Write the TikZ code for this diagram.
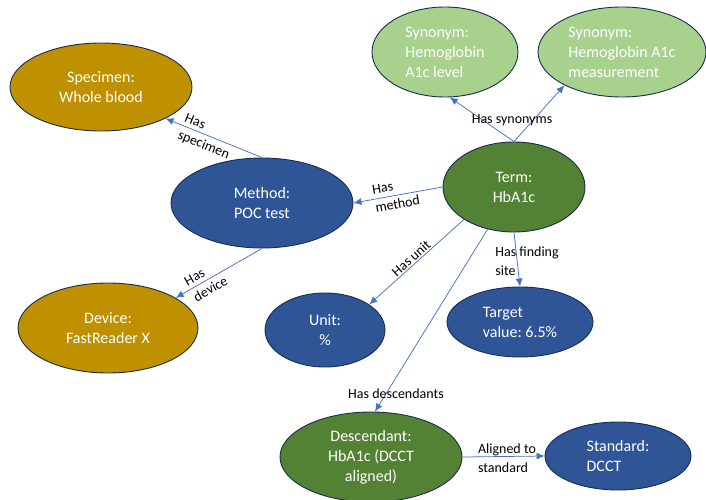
\documentclass[tikz,border=0pt]{standalone}
\usepackage{fontspec}
\setmainfont{Carlito}
\usetikzlibrary{shapes.geometric,arrows.meta}

\definecolor{goldfill}{HTML}{BF9000}
\definecolor{bluefill}{HTML}{2F5597}
\definecolor{greenfill}{HTML}{548235}
\definecolor{lightgreen}{HTML}{A9D18E}
\definecolor{outline}{HTML}{172C51}
\definecolor{linkblue}{HTML}{4472C4}

\begin{document}
\frenchspacing
\begin{tikzpicture}[x=1pt,y=-1pt,
  bubble/.style={ellipse, draw=outline, line width=0.9pt, inner sep=0pt,
    text=white, font=\fontsize{16}{20}\selectfont},
  gold/.style={bubble, fill=goldfill, align=center},
  navy/.style={bubble, fill=bluefill, align=center},
  navyleft/.style={bubble, fill=bluefill, align=left},
  green/.style={bubble, fill=greenfill, align=center},
  pale/.style={bubble, fill=lightgreen, align=left},
  link/.style={draw=linkblue, line width=0.75pt, -{Latex[length=8pt,width=7pt]}},
  tag/.style={inner sep=0pt, text=black, align=left,
    font=\fontsize{14}{18.5}\selectfont}
]
\useasboundingbox (0,0) rectangle (706,500);

% concept bubbles
\node[gold, minimum width=182pt, minimum height=88pt] (specimen) at (101,87)
  {Specimen:\\Whole blood};
\node[pale, minimum width=146pt, minimum height=90pt] (syn1) at (445,52)
  {Synonym:\\Hemoglobin\\A1c level};
\node[pale, minimum width=168pt, minimum height=90pt] (syn2) at (622,52)
  {Synonym:\\Hemoglobin A1c\\measurement};
\node[green, minimum width=142pt, minimum height=90pt] (term) at (514,187)
  {Term:\\HbA1c};
\node[navy, minimum width=182pt, minimum height=90pt] (method) at (262,203)
  {Method:\\POC test};
\node[gold, minimum width=180pt, minimum height=90pt] (device) at (108,328)
  {Device:\\FastReader X};
\node[navy, minimum width=120pt, minimum height=74pt] (unit) at (325,330)
  {Unit:\\\%};
\node[navyleft, minimum width=146pt, minimum height=70pt] (target) at (520,322)
  {Target\\value: 6.5\%};
\node[green, minimum width=182pt, minimum height=90pt] (desc) at (371,457)
  {Descendant:\\HbA1c (DCCT\\aligned)};
\node[navyleft, minimum width=146pt, minimum height=68pt] (std) at (618,456)
  {Standard:\\DCCT};

% relations
\draw[link] (term.north) -- (syn1.-84);
\draw[link] (term.north) -- (syn2.210);
\draw[link] (method.north) -- (specimen.-26.6);
\draw[link] (term.west) -- (method.east);
\draw[link] (method.south) -- (device.24.8);
\draw[link] (term.213) -- (unit.30);
\draw[link] (term.south) -- (target.north);
\draw[link] (term.238) -- (desc.85);
\draw[link] (desc.east) -- (std.west);

% relation labels
\node[tag] (lsyn) at (512,120) {Has synonyms};
\node[tag, rotate=-22] (lspec) at (207,137) {Has\\specimen};
\node[tag, rotate=10] (lmeth) at (396,195) {Has\\method};
\node[tag, rotate=30] (ldev) at (206,281) {Has\\device};
\node[tag, rotate=42] (lunit) at (411,258) {Has unit};
\node[tag] (lsite) at (527,261) {Has finding\\site};
\node[tag] (ldesc) at (396,394) {Has descendants};
\node[tag] (lalign) at (507,458) {Aligned to\\standard};
\end{tikzpicture}
\end{document}
